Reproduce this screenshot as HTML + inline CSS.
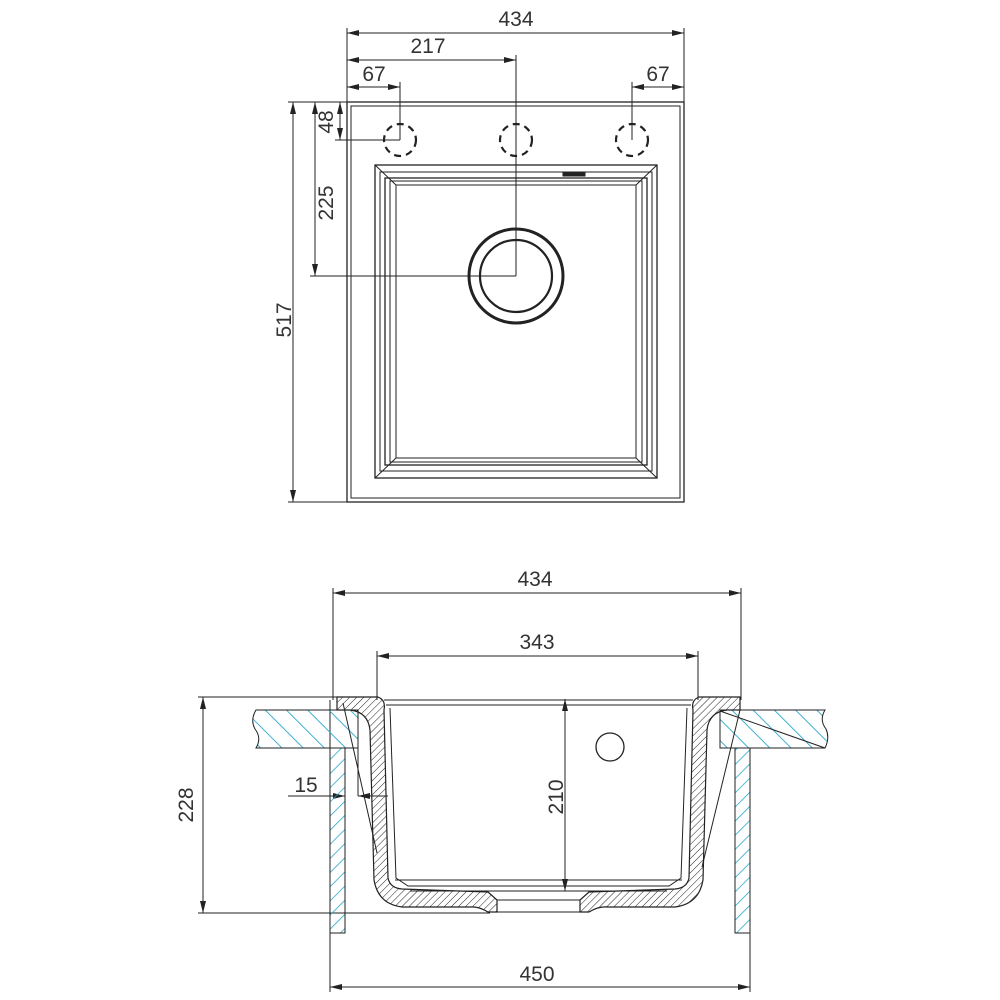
<!DOCTYPE html>
<html><head><meta charset="utf-8"><style>
html,body{margin:0;padding:0;background:#fff;}
svg{display:block;}
text{font-family:"Liberation Sans",sans-serif;font-size:21px;fill:#333;}
</style></head><body>
<svg width="1000" height="1000" viewBox="0 0 1000 1000" xmlns="http://www.w3.org/2000/svg">
<defs>
<marker id="a" markerWidth="12" markerHeight="6" refX="12" refY="3" orient="auto-start-reverse" markerUnits="userSpaceOnUse"><path d="M0,0 L12,3 L0,6 z" fill="#222"/></marker>
<pattern id="hc" width="15" height="15" patternUnits="userSpaceOnUse" patternTransform="rotate(-45)"><line x1="0" y1="0" x2="0" y2="15" stroke="#2aa8cc" stroke-width="1.8"/></pattern>
<pattern id="hc2" width="10" height="10" patternUnits="userSpaceOnUse" patternTransform="rotate(45)"><line x1="0" y1="0" x2="0" y2="10" stroke="#2aa8cc" stroke-width="1.6"/></pattern>
<pattern id="hb" width="5" height="5" patternUnits="userSpaceOnUse" patternTransform="rotate(45)"><line x1="0" y1="0" x2="0" y2="5" stroke="#222" stroke-width="1"/></pattern>
</defs>
<g stroke="#222" fill="none" stroke-width="1">
<rect x="347" y="102" width="337" height="400" stroke-width="1.3"/>
<rect x="351" y="106" width="329" height="392"/>
<rect x="375" y="165" width="282" height="313" stroke-width="1.3"/>
<rect x="380" y="172" width="272" height="299"/>
<rect x="385" y="178" width="262" height="287" stroke-width="1.3"/>
<rect x="390" y="181" width="252" height="281"/>
<rect x="396" y="185" width="240" height="273"/>
<line x1="375" y1="165" x2="396" y2="185"/><line x1="657" y1="165" x2="636" y2="185"/>
<line x1="375" y1="478" x2="396" y2="458"/><line x1="657" y1="478" x2="636" y2="458"/>
<rect x="563" y="173" width="22" height="3" fill="#222"/>
<circle cx="516" cy="276" r="47" stroke-width="3"/>
<circle cx="516" cy="276" r="36" stroke-width="2.2"/>
<g stroke-width="2.2" stroke-dasharray="7,5">
<circle cx="400" cy="140" r="16"/><circle cx="516" cy="140" r="16"/><circle cx="632" cy="140" r="16"/></g>
<line x1="347" y1="28" x2="347" y2="102"/><line x1="684" y1="28" x2="684" y2="102"/>
<line x1="516" y1="55" x2="516" y2="276"/>
<line x1="400" y1="82" x2="400" y2="140"/><line x1="632" y1="82" x2="632" y2="140"/>
<line x1="347" y1="33" x2="684" y2="33" marker-start="url(#a)" marker-end="url(#a)"/>
<line x1="347" y1="60" x2="516" y2="60" marker-start="url(#a)" marker-end="url(#a)"/>
<line x1="347" y1="87" x2="400" y2="87" marker-start="url(#a)" marker-end="url(#a)"/>
<line x1="632" y1="87" x2="684" y2="87" marker-start="url(#a)" marker-end="url(#a)"/>
<line x1="288" y1="102" x2="347" y2="102"/><line x1="288" y1="502" x2="347" y2="502"/>
<line x1="310" y1="276" x2="516" y2="276"/><line x1="335" y1="140" x2="400" y2="140"/>
<line x1="293" y1="102" x2="293" y2="502" marker-start="url(#a)" marker-end="url(#a)"/>
<line x1="315" y1="102" x2="315" y2="276" marker-start="url(#a)" marker-end="url(#a)"/>
<line x1="340" y1="102" x2="340" y2="140" marker-start="url(#a)" marker-end="url(#a)"/>

<line x1="333" y1="588" x2="333" y2="700"/><line x1="741" y1="588" x2="741" y2="700"/>
<line x1="377" y1="651" x2="377" y2="700"/><line x1="698" y1="651" x2="698" y2="700"/>
<line x1="333" y1="593" x2="741" y2="593" marker-start="url(#a)" marker-end="url(#a)"/>
<line x1="377" y1="656" x2="698" y2="656" marker-start="url(#a)" marker-end="url(#a)"/>
<line x1="198" y1="697" x2="340" y2="697"/><line x1="198" y1="913" x2="490" y2="913"/>
<line x1="203" y1="697" x2="203" y2="913" marker-start="url(#a)" marker-end="url(#a)"/>
<line x1="565" y1="699" x2="565" y2="891" marker-start="url(#a)" marker-end="url(#a)"/>
<line x1="330" y1="700" x2="330" y2="992"/><line x1="750" y1="930" x2="750" y2="992"/>
<line x1="330" y1="987" x2="750" y2="987" marker-start="url(#a)" marker-end="url(#a)"/>
<line x1="288" y1="796" x2="345" y2="796" marker-end="url(#a)"/>
<line x1="388" y1="796" x2="358" y2="796" marker-end="url(#a)"/>
<line x1="358" y1="748" x2="358" y2="796"/>

<path d="M256,710 L358,710 L358,748 L256,748 Q262,738 255,729 Q250,720 256,710 Z" fill="url(#hc)"/>
<path d="M720,710 L825,710 Q819,720 826,729 Q830,738 825,748 L720,748 Z" fill="url(#hc)"/>
<line x1="720" y1="711" x2="825" y2="748"/>
<rect x="330" y="748" width="15" height="185" fill="url(#hc2)"/>
<rect x="735" y="748" width="15" height="185" fill="url(#hc2)"/>

<path d="M337,697 L378,697 Q386,700 384,710 L388,878 Q390,888 402,889 L488,892 L497,900 L497,912 L488,912 Q478,906 470,907 L402,907 Q378,904 374,880 L370,730 Q368,712 350,710 L337,710 Z" fill="url(#hb)" stroke-width="1.2"/>
<path d="M740,697 L699,697 Q691,700 693,710 L689,878 Q687,888 675,889 L589,892 L580,900 L580,912 L589,912 Q599,906 607,907 L675,907 Q699,904 703,880 L707,730 Q709,712 727,710 L740,710 Z" fill="url(#hb)" stroke-width="1.2"/>
<line x1="384" y1="700" x2="693" y2="700"/><line x1="386" y1="705" x2="691" y2="705"/>
<line x1="497" y1="900" x2="580" y2="900"/><line x1="497" y1="912" x2="580" y2="912"/>
<path d="M390,708 L396,878 L408,886 L669,886 L681,878 L687,708"/>
<line x1="395" y1="880" x2="682" y2="880"/>
<line x1="410" y1="891" x2="667" y2="891"/>
<circle cx="610" cy="747" r="14" stroke-width="1.3"/>
<line x1="343" y1="703" x2="377" y2="853"/>
<line x1="740" y1="710" x2="702" y2="867"/>
</g>
<g>
<text x="516" y="26" text-anchor="middle">434</text>
<text x="428" y="53" text-anchor="middle">217</text>
<text x="374" y="81" text-anchor="middle">67</text>
<text x="658" y="81" text-anchor="middle">67</text>
<text transform="translate(291,320) rotate(-90)" text-anchor="middle">517</text>
<text transform="translate(333,203) rotate(-90)" text-anchor="middle">225</text>
<text transform="translate(333,122) rotate(-90)" text-anchor="middle">48</text>
<text x="535" y="586" text-anchor="middle">434</text>
<text x="537" y="649" text-anchor="middle">343</text>
<text transform="translate(193,805) rotate(-90)" text-anchor="middle">228</text>
<text transform="translate(563,797) rotate(-90)" text-anchor="middle">210</text>
<text x="537" y="981" text-anchor="middle">450</text>
<text x="306" y="792" text-anchor="middle">15</text>
</g>
</svg>
</body></html>
